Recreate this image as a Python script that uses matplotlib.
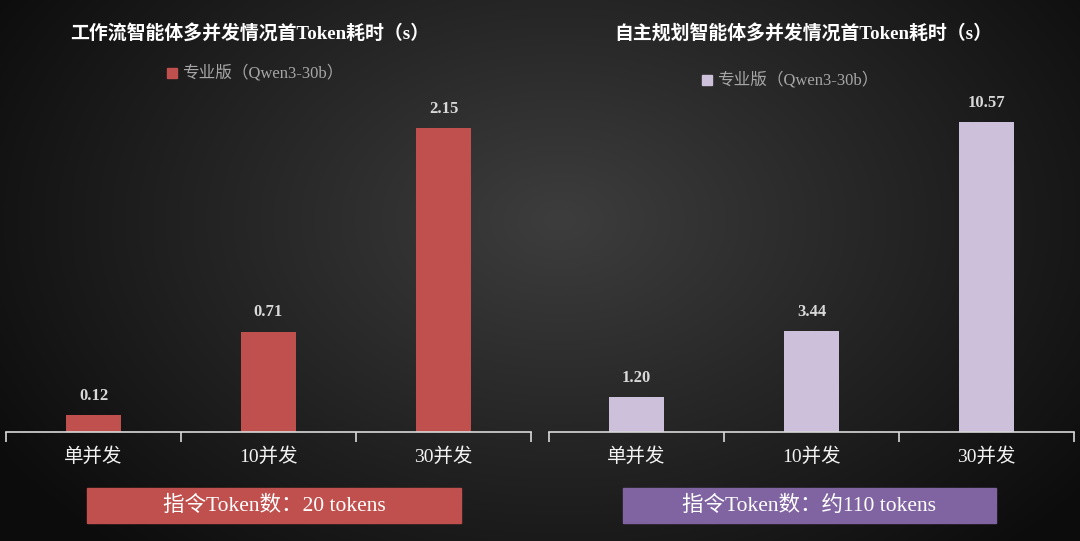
import numpy as np
import matplotlib.pyplot as plt

plt.rcParams['font.family'] = ['Liberation Serif', 'Noto Sans CJK SC', 'DejaVu Sans']

categories = ['单并发', '10并发', '30并发']
workflow_vals = [0.12, 0.71, 2.15]
planning_vals = [1.20, 3.44, 10.57]
titles = ['工作流智能体多并发情况首Token耗时（s）', '自主规划智能体多并发情况首Token耗时（s）']
legend_label = '专业版（Qwen3-30b）'
notes = ['指令Token数：20 tokens', '指令Token数：约110 tokens']

W, H = 1080, 541
fig = plt.figure(figsize=(W / 100, H / 100), dpi=100)

# background: dark radial gradient
bg = fig.add_axes([0, 0, 1, 1], zorder=-10)
yy, xx = np.mgrid[0:H, 0:W]
r = np.sqrt(((xx - 560) / 620.0) ** 2 + ((yy - 220) / 420.0) ** 2)
shade = np.clip(0.24 - 0.18 * r, 0.05, 0.25)
bg.imshow(np.dstack([shade] * 3), aspect='auto', extent=[0, W, H, 0])
bg.set_xlim(0, W)
bg.set_ylim(H, 0)
bg.axis('off')


def px(x0, y0, x1, y1):
    return [x0 / W, 1 - y1 / H, (x1 - x0) / W, (y1 - y0) / H]


panels = [
    dict(vals=workflow_vals, color='#c0504d', ax=(6, 100, 531, 432), ymax=332 / 141.4,
         title_x=250, leg=(172, 73), note=(87, 461), note_color='#c0504d'),
    dict(vals=planning_vals, color='#ccc0da', ax=(549, 100, 1074, 432), ymax=332 / 29.3,
         title_x=803, leg=(707, 80), note=(623, 996), note_color='#8064a2'),
]

for i, p in enumerate(panels):
    x0, y0, x1, y1 = p['ax']
    ax = fig.add_axes(px(x0, y0, x1, y1))
    ax.patch.set_alpha(0)
    xs = np.arange(len(categories))
    ax.bar(xs, p['vals'], width=0.314, color=p['color'])
    for x, v in zip(xs, p['vals']):
        ax.annotate(f'{v:.2f}', (x, v), xytext=(0, 8), textcoords='offset points',
                    ha='center', va='bottom', color='#d9d9d9', fontsize=12,
                    fontweight='bold')
    ax.set_xlim(-0.5, len(categories) - 0.5)
    ax.set_ylim(0, p['ymax'])
    for s in ['top', 'right', 'left']:
        ax.spines[s].set_visible(False)
    ax.spines['bottom'].set_color('#d9d9d9')
    ax.spines['bottom'].set_linewidth(1.2)
    ax.set_yticks([])
    ax.set_xticks(np.arange(-0.5, len(categories)))
    ax.set_xticklabels([])
    ax.tick_params(axis='x', which='major', length=7, color='#d9d9d9', width=1.2)
    ax.set_xticks(xs, minor=True)
    ax.set_xticklabels(categories, minor=True)
    ax.tick_params(axis='x', which='minor', length=0, pad=11, labelsize=14,
                   labelcolor='#f2f2f2')

    fig.text(p['title_x'] / W, 1 - 33 / H, titles[i], ha='center', va='center',
             color='white', fontsize=13.6, fontweight='bold')
    lx, ly = p['leg']
    fig.patches.append(plt.Rectangle(((lx - 5) / W, 1 - (ly + 5) / H), 10 / W, 10 / H,
                                     transform=fig.transFigure, color=p['color']))
    fig.text((lx + 10) / W, 1 - ly / H, legend_label, ha='left', va='center',
             color='#a6a6a6', fontsize=12)

    nx0, nx1 = p['note']
    fig.patches.append(plt.Rectangle((nx0 / W, 1 - 523 / H), (nx1 - nx0) / W, 35 / H,
                                     transform=fig.transFigure, color=p['note_color']))
    fig.text((nx0 + nx1) / 2 / W, 1 - 506 / H, notes[i], ha='center', va='center',
             color='white', fontsize=15.5)

fig.savefig('out.png', dpi=100)
